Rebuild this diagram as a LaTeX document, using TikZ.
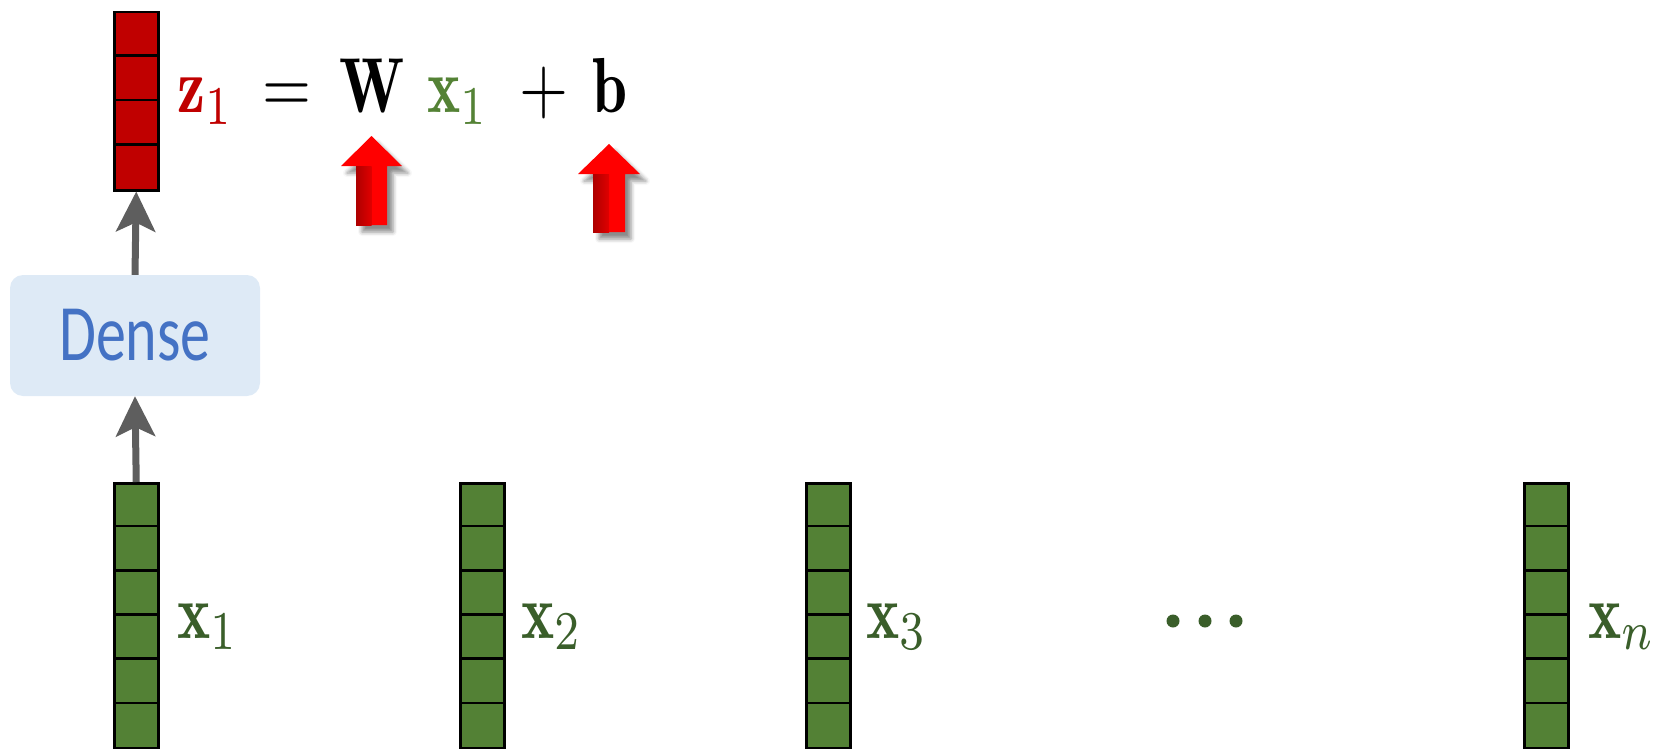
\documentclass[tikz,border=0pt]{standalone}
\usepackage{fontspec}
\newfontfamily\densefont{Carlito}
\usepackage{graphicx}
\usetikzlibrary{arrows.meta,shadows.blur}
\definecolor{cred}{HTML}{C00000}
\definecolor{cgreen}{HTML}{538135}
\definecolor{eqgreen}{HTML}{548235}
\definecolor{labgreen}{HTML}{3A5E2A}
\definecolor{densefill}{HTML}{DEEAF6}
\definecolor{denseblue}{HTML}{4472C4}
\definecolor{arrowgray}{HTML}{5E5E5E}
\newcommand\sq[1]{\scalebox{6.3}[7.8]{#1}}
\tikzset{
  colbox/.style={draw=black, line width=2.5pt, minimum width=44, inner sep=0, anchor=north west},
  divider/.style={line width=2.5pt},
  eq/.style={inner sep=0, anchor=base},
  lab/.style={eq, text=labgreen},
  densebox/.style={fill=densefill, rounded corners=13pt, minimum width=250, minimum height=121, inner sep=0, font=\densefont\fontsize{80}{90}\selectfont, text=denseblue},
  garrow/.style={draw=arrowgray, line width=7pt, -{Stealth[length=40pt,width=39pt,inset=9pt]}},
  redarrow/.style={fill=red, blur shadow={shadow xshift=6pt, shadow yshift=-7pt, shadow blur radius=4pt, shadow opacity=45}},
  bevel/.style={left color=red!68!black, right color=red!88!black}
}
\begin{document}
\begin{tikzpicture}[x=1pt,y=-1pt]
\useasboundingbox (0,0) rectangle (1673,749);
% red output column
\node[colbox, fill=cred, minimum height=178] (zc) at (113,11) {};
\foreach \k in {1,2,3} \draw[divider] (zc.north west) ++(0,\k*44.5) -- ++(44,0);
% green input columns
\foreach \n/\xx in {c1/113, c2/459, c3/805, cn/1523} {
  \node[colbox, fill=cgreen, minimum height=265] (\n) at (\xx,482) {};
  \foreach \k in {1,...,5} \draw[divider] (\n.north west) ++(0,\k*44.17) -- ++(44,0);
}
% dense box
\node[densebox] (dense) at (135,335.5) {\scalebox{0.75}[1]{Dense}};
\draw[garrow] (c1.north) -- (dense.south);
\draw[garrow] (dense.north) -- (zc.south);
% equation
\node[eq, text=cred] (z1) at (206,113) {\sq{$\mathbf{z}_1$}};
\node[eq] (eqs) at (287,113) {\sq{$=$}};
\node[eq] (W) at (372,113) {\sq{$\mathbf{W}$}};
\node[eq, text=eqgreen] (x1e) at (458,113) {\sq{$\mathbf{x}_1$}};
\node[eq] (plus) at (543.5,113) {\sq{$+$}};
\node[eq] (b) at (610.5,113) {\sq{$\mathbf{b}$}};
% red 3D arrows
\path[redarrow] (371.5,136) -- (402,166) -- (387,166) -- (387,225) -- (356,225) -- (356,166) -- (341,166) -- cycle;
\path[bevel] (356,166) -- (371.5,166) -- (371.5,225) -- (356,225) -- cycle;
\path[redarrow] (609,144) -- (640,174) -- (625,174) -- (625,232) -- (593,232) -- (593,174) -- (578,174) -- cycle;
\path[bevel] (593,174) -- (609,174) -- (609,232) -- (593,232) -- cycle;
% labels
\node[lab] (l1) at (208,638) {\sq{$\mathbf{x}_1$}};
\node[lab] (l2) at (552,638) {\sq{$\mathbf{x}_2$}};
\node[lab] (l3) at (897,638) {\sq{$\mathbf{x}_3$}};
\node[lab] (ln) at (1622,638) {\sq{$\mathbf{x}_n$}};
% dots
\foreach \dx in {1173,1205,1236} \fill[labgreen] (\dx,621) circle (6.5);
\end{tikzpicture}
\end{document}
